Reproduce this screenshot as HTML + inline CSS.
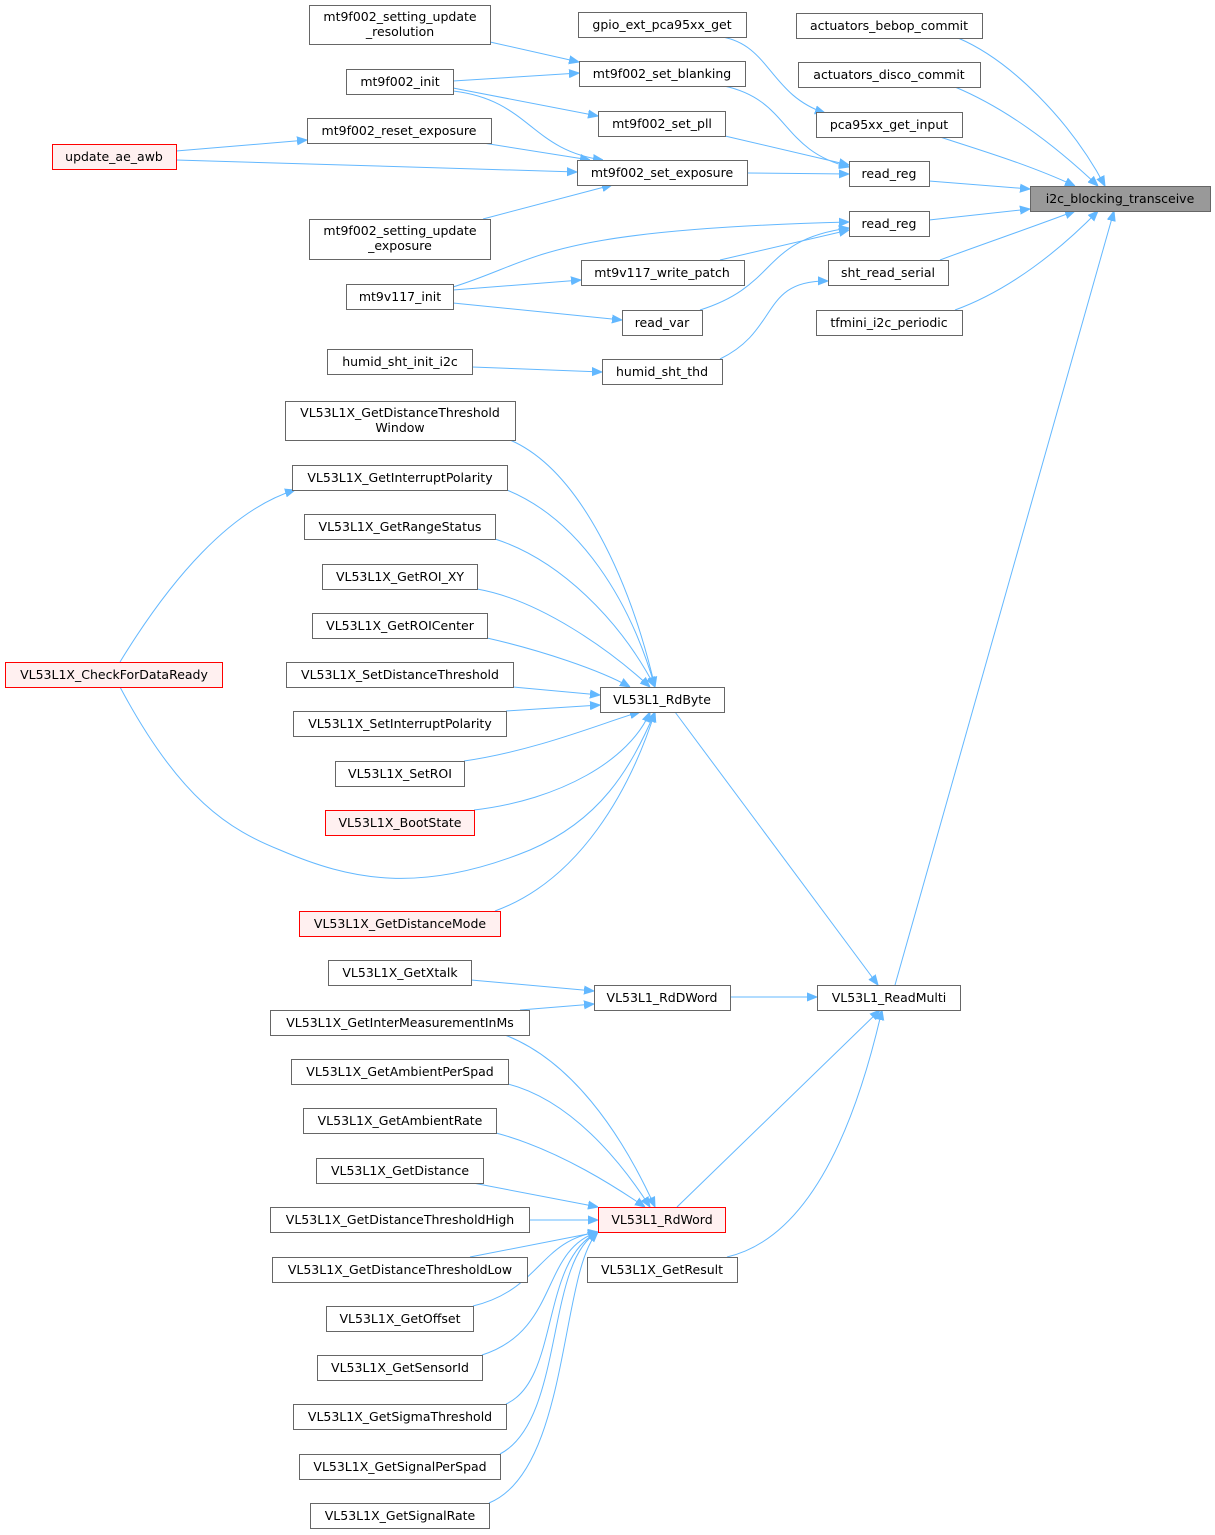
<!DOCTYPE html>
<html><head><meta charset="utf-8"><style>
html,body{margin:0;padding:0;background:#fff}
svg{display:block}
text{font-family:"DejaVu Sans","Liberation Sans",sans-serif;font-size:12.5px;fill:#000;text-anchor:middle}
.n{fill:#fff;stroke:#666;stroke-width:1}
.r{fill:#fff0f0;stroke:#f00;stroke-width:1}
.g{fill:#999;stroke:#666;stroke-width:1}
path{fill:none;stroke:#63b8ff;stroke-width:1}
</style></head><body>
<svg width="1215" height="1535" viewBox="0 0 1215 1535" xmlns="http://www.w3.org/2000/svg">
<defs><marker id="a" viewBox="0 0 10 10" refX="10" refY="5" markerWidth="10" markerHeight="10" markerUnits="userSpaceOnUse" orient="auto"><path d="M0,1 L10,5 L0,9 Z" style="fill:#63b8ff;stroke:#63b8ff"/></marker></defs>
<g marker-end="url(#a)">
<!-- to i2c -->
<path d="M958,38 C1010,60 1070,120 1105,186"/>
<path d="M955,87 C1010,110 1060,150 1098,186"/>
<path d="M940,137 C980,150 1030,165 1075,186"/>
<path d="M929,181 L1030,189"/>
<path d="M929,220 L1030,209"/>
<path d="M940,260 C980,245 1030,228 1075,211"/>
<path d="M955,310 C1010,290 1060,250 1098,211"/>
<path d="M895,985 L1114,211"/>
<!-- to read_reg / pca -->
<path d="M722,37 C770,45 770,95 825,113"/>
<path d="M724,86 C790,100 780,150 849,167"/>
<path d="M725,136 L849,165"/>
<path d="M747,173 L849,174"/>
<path d="M720,260 L849,230"/>
<path d="M700,310 C780,285 760,240 849,228"/>
<path d="M453,287 C540,260 540,230 849,222"/>
<path d="M720,359 C780,330 760,280 828,281"/>
<!-- to mt9f002 set -->
<path d="M490,42 L579,62"/>
<path d="M453,81 L579,73"/>
<path d="M453,88 L598,116"/>
<path d="M453,91 C530,100 530,150 603,160"/>
<path d="M483,143 L590,160"/>
<path d="M176,151 L307,140"/>
<path d="M176,160 L577,172"/>
<path d="M483,219 L612,185"/>
<path d="M453,290 L581,280"/>
<path d="M453,303 L622,320"/>
<path d="M472,367 L602,372"/>
<!-- ReadMulti -->
<path d="M675,712 L878,985"/>
<path d="M730,997 L817,997"/>
<path d="M677,1207 L880,1010"/>
<path d="M727,1257 C800,1240 850,1150 882,1010"/>
<!-- to RdByte -->
<path d="M510,440 C580,470 630,580 655,687"/>
<path d="M507,490 C580,520 630,600 655,687"/>
<path d="M495,539 C560,560 620,620 655,687"/>
<path d="M477,589 C540,600 610,650 650,687"/>
<path d="M487,638 C540,650 600,670 630,687"/>
<path d="M513,687 L600,695"/>
<path d="M506,711 L600,705"/>
<path d="M464,761 C540,750 610,720 640,712"/>
<path d="M474,810 C560,800 630,760 650,712"/>
<path d="M495,911 C580,880 630,790 655,712"/>
<path d="M120,687 C180,800 230,830 280,850 C350,880 420,895 530,850 C600,820 630,770 655,712"/>
<path d="M120,662 C170,580 230,510 295,490"/>
<!-- RdDWord -->
<path d="M471,980 L594,991"/>
<path d="M520,1010 L594,1004"/>
<!-- to RdWord -->
<path d="M505,1035 C570,1060 620,1130 655,1207"/>
<path d="M508,1084 C570,1100 620,1160 650,1207"/>
<path d="M496,1133 C560,1150 620,1190 645,1207"/>
<path d="M473,1183 L598,1207"/>
<path d="M529,1220 L598,1220"/>
<path d="M470,1257 L598,1232"/>
<path d="M473,1306 C540,1290 540,1240 598,1232"/>
<path d="M482,1355 C560,1330 540,1250 598,1232"/>
<path d="M506,1404 C560,1380 540,1260 598,1232"/>
<path d="M500,1454 C565,1420 545,1260 598,1232"/>
<path d="M489,1503 C570,1470 560,1270 598,1232"/>
</g>
<g>
<rect class="g" x="1030.5" y="186.5" width="180" height="25"/><text x="1120" y="203">i2c_blocking_transceive</text>
<rect class="n" x="796.5" y="13.5" width="186" height="25"/><text x="889" y="30">actuators_bebop_commit</text>
<rect class="n" x="798.5" y="62.5" width="182" height="25"/><text x="889" y="79">actuators_disco_commit</text>
<rect class="n" x="816.5" y="112.5" width="146" height="25"/><text x="889" y="129">pca95xx_get_input</text>
<rect class="n" x="849.5" y="161.5" width="80" height="25"/><text x="889" y="178">read_reg</text>
<rect class="n" x="849.5" y="211.5" width="80" height="25"/><text x="889" y="228">read_reg</text>
<rect class="n" x="828.5" y="260.5" width="120" height="25"/><text x="888" y="277">sht_read_serial</text>
<rect class="n" x="816.5" y="310.5" width="146" height="25"/><text x="889" y="327">tfmini_i2c_periodic</text>
<rect class="n" x="578.5" y="12.5" width="168" height="25"/><text x="662" y="29">gpio_ext_pca95xx_get</text>
<rect class="n" x="579.5" y="61.5" width="166" height="25"/><text x="662" y="78">mt9f002_set_blanking</text>
<rect class="n" x="598.5" y="111.5" width="127" height="25"/><text x="662" y="128">mt9f002_set_pll</text>
<rect class="n" x="577.5" y="160.5" width="170" height="25"/><text x="662" y="177">mt9f002_set_exposure</text>
<rect class="n" x="581.5" y="260.5" width="163" height="25"/><text x="662" y="277">mt9v117_write_patch</text>
<rect class="n" x="622.5" y="310.5" width="80" height="25"/><text x="662" y="327">read_var</text>
<rect class="n" x="602.5" y="359.5" width="120" height="25"/><text x="662" y="376">humid_sht_thd</text>
<rect class="n" x="309.5" y="5.5" width="181" height="39"/><text x="400" y="21">mt9f002_setting_update</text><text x="400" y="36">_resolution</text>
<rect class="n" x="346.5" y="69.5" width="107" height="25"/><text x="400" y="86">mt9f002_init</text>
<rect class="n" x="307.5" y="118.5" width="184" height="25"/><text x="399" y="135">mt9f002_reset_exposure</text>
<rect class="r" x="52.5" y="144.5" width="124" height="25"/><text x="114" y="161">update_ae_awb</text>
<rect class="n" x="309.5" y="219.5" width="181" height="40"/><text x="400" y="235">mt9f002_setting_update</text><text x="400" y="250">_exposure</text>
<rect class="n" x="346.5" y="284.5" width="107" height="25"/><text x="400" y="301">mt9v117_init</text>
<rect class="n" x="327.5" y="349.5" width="145" height="25"/><text x="400" y="366">humid_sht_init_i2c</text>
<rect class="n" x="285.5" y="401.5" width="230" height="39"/><text x="400" y="417">VL53L1X_GetDistanceThreshold</text><text x="400" y="432">Window</text>
<rect class="n" x="292.5" y="465.5" width="215" height="25"/><text x="400" y="482">VL53L1X_GetInterruptPolarity</text>
<rect class="n" x="304.5" y="514.5" width="191" height="25"/><text x="400" y="531">VL53L1X_GetRangeStatus</text>
<rect class="n" x="322.5" y="564.5" width="155" height="25"/><text x="400" y="581">VL53L1X_GetROI_XY</text>
<rect class="n" x="312.5" y="613.5" width="175" height="25"/><text x="400" y="630">VL53L1X_GetROICenter</text>
<rect class="n" x="286.5" y="662.5" width="227" height="25"/><text x="400" y="679">VL53L1X_SetDistanceThreshold</text>
<rect class="n" x="293.5" y="711.5" width="213" height="25"/><text x="400" y="728">VL53L1X_SetInterruptPolarity</text>
<rect class="n" x="335.5" y="761.5" width="129" height="25"/><text x="400" y="778">VL53L1X_SetROI</text>
<rect class="r" x="325.5" y="810.5" width="149" height="25"/><text x="400" y="827">VL53L1X_BootState</text>
<rect class="r" x="299.5" y="911.5" width="201" height="25"/><text x="400" y="928">VL53L1X_GetDistanceMode</text>
<rect class="r" x="5.5" y="662.5" width="217" height="25"/><text x="114" y="679">VL53L1X_CheckForDataReady</text>
<rect class="n" x="600.5" y="687.5" width="124" height="25"/><text x="662" y="704">VL53L1_RdByte</text>
<rect class="n" x="328.5" y="960.5" width="143" height="25"/><text x="400" y="977">VL53L1X_GetXtalk</text>
<rect class="n" x="270.5" y="1010.5" width="259" height="25"/><text x="400" y="1027">VL53L1X_GetInterMeasurementInMs</text>
<rect class="n" x="594.5" y="985.5" width="136" height="25"/><text x="662" y="1002">VL53L1_RdDWord</text>
<rect class="n" x="817.5" y="985.5" width="143" height="25"/><text x="889" y="1002">VL53L1_ReadMulti</text>
<rect class="n" x="291.5" y="1059.5" width="217" height="25"/><text x="400" y="1076">VL53L1X_GetAmbientPerSpad</text>
<rect class="n" x="303.5" y="1108.5" width="193" height="25"/><text x="400" y="1125">VL53L1X_GetAmbientRate</text>
<rect class="n" x="316.5" y="1158.5" width="167" height="25"/><text x="400" y="1175">VL53L1X_GetDistance</text>
<rect class="n" x="270.5" y="1207.5" width="259" height="25"/><text x="400" y="1224">VL53L1X_GetDistanceThresholdHigh</text>
<rect class="r" x="598.5" y="1207.5" width="127" height="25"/><text x="662" y="1224">VL53L1_RdWord</text>
<rect class="n" x="587.5" y="1257.5" width="150" height="25"/><text x="662" y="1274">VL53L1X_GetResult</text>
<rect class="n" x="272.5" y="1257.5" width="255" height="25"/><text x="400" y="1274">VL53L1X_GetDistanceThresholdLow</text>
<rect class="n" x="326.5" y="1306.5" width="147" height="25"/><text x="400" y="1323">VL53L1X_GetOffset</text>
<rect class="n" x="317.5" y="1355.5" width="165" height="25"/><text x="400" y="1372">VL53L1X_GetSensorId</text>
<rect class="n" x="293.5" y="1404.5" width="213" height="25"/><text x="400" y="1421">VL53L1X_GetSigmaThreshold</text>
<rect class="n" x="299.5" y="1454.5" width="201" height="25"/><text x="400" y="1471">VL53L1X_GetSignalPerSpad</text>
<rect class="n" x="310.5" y="1503.5" width="179" height="25"/><text x="400" y="1520">VL53L1X_GetSignalRate</text>
</g>
</svg>
</body></html>
